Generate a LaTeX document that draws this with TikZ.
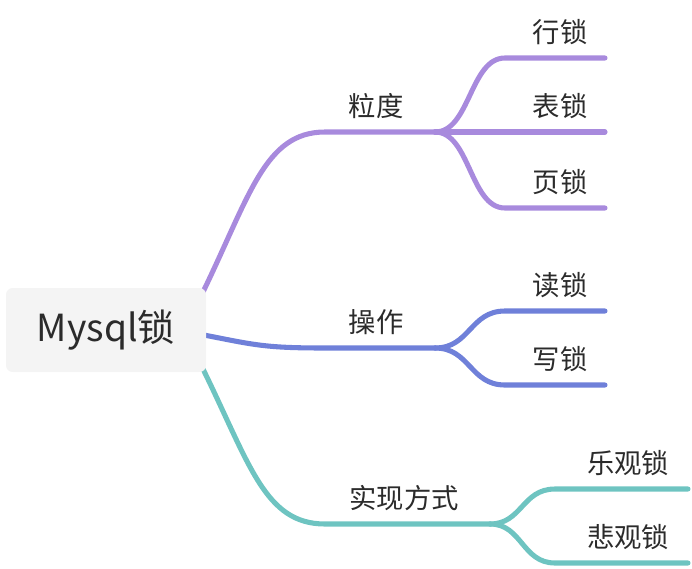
\documentclass[tikz,border=0pt]{standalone}
\usepackage{fontspec}
\setmainfont{Noto Sans CJK SC}
\definecolor{lilac}{HTML}{A88ADD}
\definecolor{steel}{HTML}{6F80D9}
\definecolor{seagreen}{HTML}{6EC4C1}
\definecolor{rootgray}{HTML}{F4F4F4}
\definecolor{ink}{HTML}{2B2B2B}

\tikzset{
  branch/.style={line width=3.8pt, line cap=round},
  label/.style={font=\fontsize{20.5}{24}\selectfont, text=ink, inner sep=0pt},
}

\begin{document}
\begin{tikzpicture}[x=0.75pt,y=-0.75pt]
	\useasboundingbox (0,0) rectangle (692,568);

	%branch points
	\coordinate (r1) at (203,292);
	\coordinate (r2) at (204,335);
	\coordinate (r3) at (203,369);
	\coordinate (k1) at (435,132);
	\coordinate (k2) at (435,348);
	\coordinate (k3) at (490,524);

	%leaf ends
	\coordinate (e11) at (605,58);
	\coordinate (e12) at (605,132);
	\coordinate (e13) at (605,208);
	\coordinate (e21) at (605,311);
	\coordinate (e22) at (605,385);
	\coordinate (e31) at (688,489);
	\coordinate (e32) at (688,563);

	%granularity
	\draw[branch,lilac] (r1) .. controls (250,195) and (265,132) .. (325,132) -- (k1);
	\draw[branch,lilac] (k1) .. controls (470,132) and (470,58) .. (505,58) -- (e11);
	\draw[branch,lilac] (k1) -- (e12);
	\draw[branch,lilac] (k1) .. controls (470,132) and (470,208) .. (505,208) -- (e13);

	%operation
	\draw[branch,steel] (r2) .. controls (255,345) and (265,348) .. (325,348) -- (k2);
	\draw[branch,steel] (k2) .. controls (470,348) and (470,311) .. (505,311) -- (e21);
	\draw[branch,steel] (k2) .. controls (470,348) and (470,385) .. (505,385) -- (e22);

	%implementation
	\draw[branch,seagreen] (r3) .. controls (250,465) and (265,524) .. (325,524) -- (k3);
	\draw[branch,seagreen] (k3) .. controls (522,524) and (522,489) .. (555,489) -- (e31);
	\draw[branch,seagreen] (k3) .. controls (522,524) and (522,563) .. (555,563) -- (e32);

	\node[fill=rootgray, rounded corners=5pt, minimum width=150pt, minimum height=63pt,
	      font=\fontsize{28}{32}\selectfont, text=ink] (root) at (106,330) {Mysql锁};

	\node[label] (lidu) at (376,106) {粒度};
	\node[label] (hang) at (560,32) {行锁};
	\node[label] (biao) at (560,106) {表锁};
	\node[label] (ye) at (560,182) {页锁};

	\node[label] (caozuo) at (376,322) {操作};
	\node[label] (du) at (560,285) {读锁};
	\node[label] (xie) at (560,359) {写锁};

	\node[label] (shixian) at (404,498) {实现方式};
	\node[label] (legu) at (628,463) {乐观锁};
	\node[label] (beigu) at (628,537) {悲观锁};
\end{tikzpicture}
\end{document}
